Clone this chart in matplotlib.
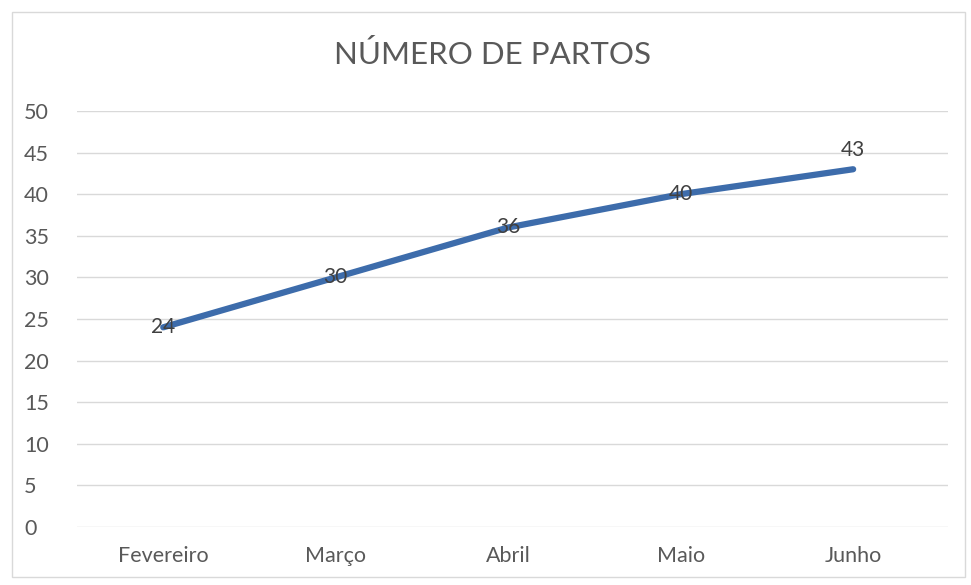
import matplotlib.pyplot as plt
from matplotlib.patches import Rectangle

months = ["Fevereiro", "Março", "Abril", "Maio", "Junho"]
partos = [24, 30, 36, 40, 43]
yticks = [0, 5, 10, 15, 20, 25, 30, 35, 40, 45, 50]

plt.rcParams['font.family'] = ['Lato', 'DejaVu Sans']

fig = plt.figure(figsize=(9.71, 5.85), dpi=100)
ax = fig.add_axes([77 / 971, 1 - 527 / 585, 871 / 971, 416 / 585])

# moldura do gráfico
fig.patches.append(Rectangle((12 / 971, 8 / 585), 953 / 971, 565 / 585,
                             transform=fig.transFigure, fill=False,
                             edgecolor="#d9d9d9", linewidth=1))

x = list(range(len(months)))
ax.plot(x, partos, color="#3d6cab", linewidth=4.5, solid_capstyle="round", zorder=3)

# rótulos de dados (o último fica acima do ponto)
offsets = [0, 0, 0, 0, 14]
for xi, v, off in zip(x, partos, offsets):
    ax.annotate(str(v), (xi, v), xytext=(0, off), textcoords="offset points",
                ha="center", va="center", fontsize=15, color="#404040", zorder=4)

ax.set_xlim(-0.5, 4.55)
ax.set_ylim(0, 50)
ax.set_yticks(yticks)
ax.set_xticks(x)
ax.set_xticklabels(months)
ax.grid(axis="y", color="#d9d9d9", linewidth=1)
ax.set_axisbelow(True)
for s in ax.spines.values():
    s.set_visible(False)
ax.tick_params(length=0, labelsize=15.5, labelcolor="#595959")
ax.tick_params(axis="x", pad=14)
ax.tick_params(axis="y", pad=38)
for lbl in ax.get_yticklabels():
    lbl.set_horizontalalignment("left")

fig.text(0.507, 1 - 55 / 585, "NÚMERO DE PARTOS", ha="center", va="center",
         fontsize=22.5, color="#595959")

fig.savefig("out.png", dpi=100)
